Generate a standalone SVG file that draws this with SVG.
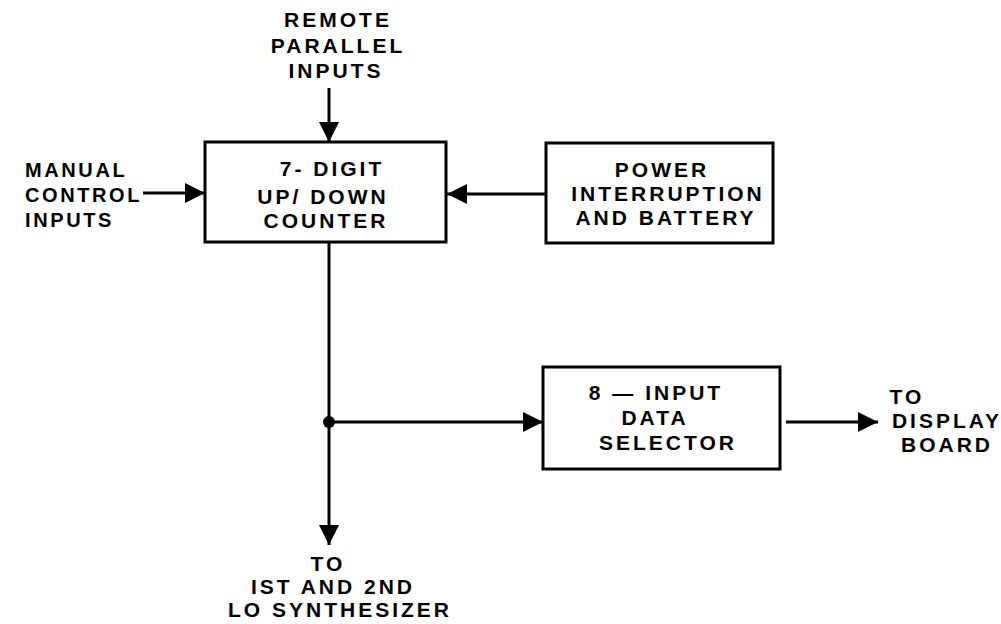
<svg xmlns="http://www.w3.org/2000/svg" width="1001" height="624" viewBox="0 0 1001 624">
<style>
text{font-family:"Liberation Sans",Arial,sans-serif;font-weight:bold;font-size:21px;letter-spacing:3px;fill:#000}
.c{text-anchor:middle}
.m{font-size:20px;letter-spacing:2.6px}
.box{fill:none;stroke:#000;stroke-width:3}
.ln{fill:none;stroke:#000;stroke-width:3}
</style>
<defs>
<marker id="ah" viewBox="0 0 10 10" refX="10" refY="5" markerWidth="20" markerHeight="20" markerUnits="userSpaceOnUse" orient="auto">
<path d="M0,0 L10,5 L0,10 Z" fill="#000"/>
</marker>
</defs>
<rect width="1001" height="624" fill="#fff"/>
<g id="remote-label">
<text class="c" x="338" y="27">REMOTE</text>
<text class="c" x="338" y="53">PARALLEL</text>
<text class="c" x="336" y="78">INPUTS</text>
</g>
<g id="manual-label">
<text class="m" x="25" y="177">MANUAL</text>
<text class="m" x="25" y="202">CONTROL</text>
<text class="m" x="25" y="227">INPUTS</text>
</g>
<g id="counter">
<rect class="box" x="205" y="142" width="241" height="100"/>
<text class="c" x="332" y="176">7- DIGIT</text>
<text class="c" x="323" y="204">UP/ DOWN</text>
<text class="c" x="326" y="228">COUNTER</text>
</g>
<g id="power">
<rect class="box" x="546" y="143" width="227" height="100"/>
<text class="c" x="662" y="177">POWER</text>
<text class="c" x="668" y="201">INTERRUPTION</text>
<text class="c" x="666" y="225">AND BATTERY</text>
</g>
<g id="selector">
<rect class="box" x="543" y="367" width="237" height="102"/>
<text class="c" x="656" y="400">8 — INPUT</text>
<text class="c" x="655" y="425">DATA</text>
<text class="c" x="668" y="450">SELECTOR</text>
</g>
<g id="display-label">
<text class="c" x="907" y="404">TO</text>
<text class="c" x="947" y="428">DISPLAY</text>
<text class="c" x="947" y="452">BOARD</text>
</g>
<g id="synth-label">
<text class="c" x="328" y="571">TO</text>
<text class="c" x="333" y="594">IST AND 2ND</text>
<text class="c" x="340" y="617">LO SYNTHESIZER</text>
</g>
<g id="connectors">
<line class="ln" x1="329" y1="88" x2="329" y2="142" marker-end="url(#ah)"/>
<line class="ln" x1="143" y1="193" x2="205" y2="193" marker-end="url(#ah)"/>
<line class="ln" x1="546" y1="194" x2="447" y2="194" marker-end="url(#ah)"/>
<line class="ln" x1="329" y1="242" x2="329" y2="545" marker-end="url(#ah)"/>
<line class="ln" x1="329" y1="422" x2="543" y2="422" marker-end="url(#ah)"/>
<circle cx="329" cy="422" r="6" fill="#000"/>
<line class="ln" x1="786" y1="422" x2="878" y2="422" marker-end="url(#ah)"/>
</g>
</svg>
